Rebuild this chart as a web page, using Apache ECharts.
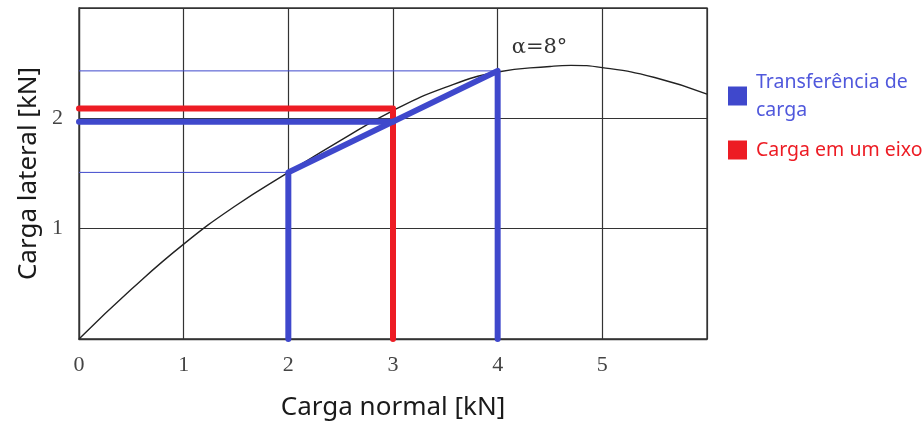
<!DOCTYPE html>
<html>
<head>
<meta charset="utf-8">
<script src="https://cdn.jsdelivr.net/npm/echarts@6/dist/echarts.min.js"></script>
<style>
html,body{margin:0;padding:0;background:#fff;}
#chart{width:924px;height:426px;}
</style>
</head>
<body>
<div id="chart"></div>
<script>
// ---- data ----
const curveX = [0, 0.5, 1, 1.5, 2, 2.5, 3, 3.5, 4, 4.5, 4.7, 5, 5.5, 6];
const curveY = [0, 0.45, 0.86, 1.21, 1.51, 1.80, 2.07, 2.28, 2.42, 2.47, 2.48, 2.46, 2.37, 2.22];

const transferX = [2, 2, 4, 4];
const transferY = [0, 1.51, 2.43, 0];
const transferMeanX = [0, 3];
const transferMeanY = [1.97, 1.97];

const axleX = [0, 3, 3];
const axleY = [2.09, 2.09, 0];

const guideLowX = [0, 2];
const guideLowY = [1.51, 1.51];
const guideHighX = [0, 4];
const guideHighY = [2.43, 2.43];

const slipLabel = 'α=8°';
const slipLabelPos = [4.4, 2.64];

const nameTransfer = 'Transferência de carga';
const nameAxle = 'Carga em um eixo';
const xTitle = 'Carga normal [kN]';
const yTitle = 'Carga lateral [kN]';

const pairs = (xs, ys) => xs.map((x, i) => [x, ys[i]]);

const BLUE = '#3F48CC';
const RED = '#ED1C24';
const GRID = '#333333';

const chart = echarts.init(document.getElementById('chart'));
chart.setOption({
  animation: false,
  backgroundColor: '#ffffff',
  grid: { left: 79, right: 217, top: 8, bottom: 86, show: true, borderColor: GRID, borderWidth: 1.3 },
  xAxis: {
    type: 'value', min: 0, max: 6, interval: 1,
    name: xTitle, nameLocation: 'middle', nameGap: 56,
    nameTextStyle: { fontFamily: 'Noto Sans', fontSize: 26, color: '#1a1a1a' },
    axisLine: { show: true, lineStyle: { color: GRID, width: 1.3 } },
    axisTick: { show: false },
    axisLabel: { showMaxLabel: false, margin: 15, fontFamily: 'Liberation Serif', fontSize: 22, color: '#444' },
    splitLine: { show: true, lineStyle: { color: GRID, width: 1.2 } }
  },
  yAxis: {
    type: 'value', min: 0, max: 3, interval: 1,
    name: yTitle, nameLocation: 'middle', nameGap: 34,
    nameTextStyle: { fontFamily: 'Noto Sans', fontSize: 26, color: '#1a1a1a' },
    axisLine: { show: true, lineStyle: { color: GRID, width: 1.3 } },
    axisTick: { show: false },
    axisLabel: { showMinLabel: false, showMaxLabel: false, margin: 16, fontFamily: 'Liberation Serif', fontSize: 22, color: '#444' },
    splitLine: { show: true, lineStyle: { color: GRID, width: 1.2 } }
  },
  legend: {
    orient: 'vertical', left: 723, top: 63, itemWidth: 19, itemHeight: 19, itemGap: 12,
    icon: 'rect',
    formatter: n => n === nameTransfer ? 'Transferência de\ncarga' : n,
    textStyle: { fontFamily: 'Noto Sans', fontSize: 19.5, lineHeight: 28, padding: [0, 0, 0, 4] },
    data: [
      { name: nameTransfer, textStyle: { color: '#5058DC' } },
      { name: nameAxle, textStyle: { color: RED } }
    ]
  },
  series: [
    {
      name: 'curve', type: 'line', smooth: true, showSymbol: false, silent: true,
      data: pairs(curveX, curveY), z: 2,
      lineStyle: { color: '#222', width: 1.4 }, itemStyle: { color: '#222' },
      markPoint: {
        symbol: 'circle', symbolSize: 0, silent: true,
        label: { show: true, position: 'inside', formatter: slipLabel, fontFamily: 'DejaVu Serif', fontSize: 21, color: '#333' },
        data: [{ coord: slipLabelPos }]
      }
    },
    {
      name: 'guideLow', type: 'line', showSymbol: false, silent: true, z: 3,
      data: pairs(guideLowX, guideLowY), lineStyle: { color: BLUE, width: 1 }
    },
    {
      name: 'guideHigh', type: 'line', showSymbol: false, silent: true, z: 3,
      data: pairs(guideHighX, guideHighY), lineStyle: { color: BLUE, width: 1 }
    },
    {
      name: nameAxle, type: 'line', showSymbol: false, z: 4, color: RED,
      data: pairs(axleX, axleY), lineStyle: { color: RED, width: 6, cap: 'round', join: 'round' },
      itemStyle: { color: RED }
    },
    {
      name: nameTransfer, type: 'line', showSymbol: false, z: 5, color: BLUE,
      data: pairs(transferX, transferY), lineStyle: { color: BLUE, width: 6, cap: 'round', join: 'round' },
      itemStyle: { color: BLUE }
    },
    {
      name: nameTransfer, type: 'line', showSymbol: false, z: 5, color: BLUE,
      data: pairs(transferMeanX, transferMeanY), lineStyle: { color: BLUE, width: 6, cap: 'round', join: 'round' },
      itemStyle: { color: BLUE }
    }
  ]
});
</script>
</body>
</html>
